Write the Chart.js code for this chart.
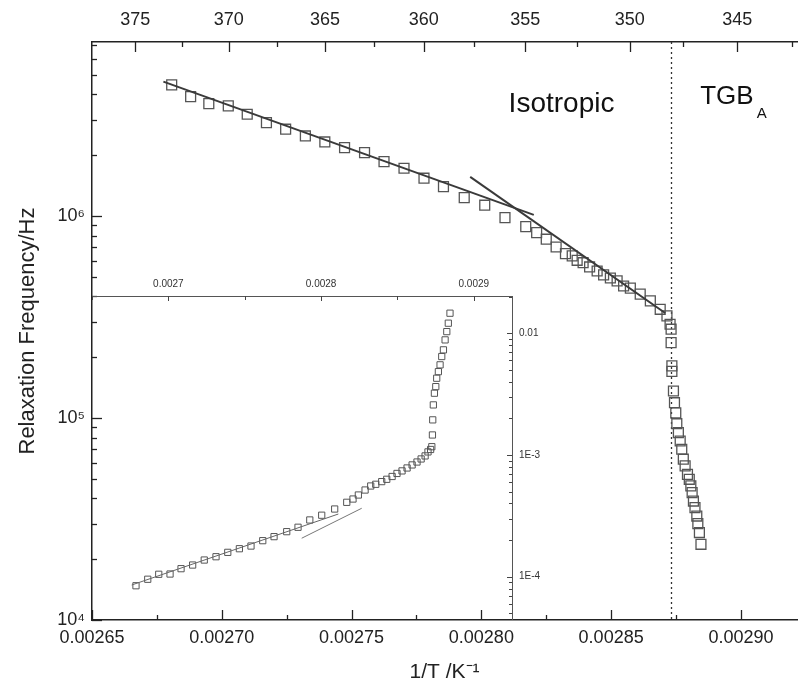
<!DOCTYPE html>
<html><head><meta charset="utf-8">
<script src="https://cdn.jsdelivr.net/npm/chart.js@4/dist/chart.umd.min.js"></script>
<style>
html,body{margin:0;padding:0;background:#fff;}
#wrap{position:relative;width:799px;height:690px;overflow:hidden;background:#fff;}
#main{position:absolute;left:0;top:0;}
#inset{position:absolute;left:92px;top:270px;}
</style></head><body>
<div id="wrap"><canvas id="main" width="799" height="690"></canvas><canvas id="inset" width="470" height="350"></canvas></div>
<script>
// ---------- main plot data (1/T in K^-1, relaxation frequency in Hz) ----------
const mainX = [0.0026807,0.0026880,0.0026950,0.0027025,0.0027098,0.0027172,0.0027246,0.0027322,0.0027397,0.0027473,
  0.0027550,0.0027625,0.0027702,0.0027779,0.0027854,0.0027934,0.0028013,0.0028091,0.0028171,0.0028213,
  0.0028250,0.0028288,0.0028324,0.0028350,0.0028369,0.0028392,0.0028417,0.0028446,0.0028471,0.0028497,
  0.0028523,0.0028548,0.0028574,0.0028612,0.0028651,0.0028689,0.0028715,0.0028727,0.0028731,0.0028731,
  0.0028734,0.0028734,0.0028740,0.0028744,0.0028749,0.0028753,0.0028759,0.0028766,0.0028772,0.0028778,
  0.0028785,0.0028794,0.0028801,0.0028807,0.0028812,0.0028817,0.0028823,0.0028830,0.0028834,0.0028840,0.0028846];
const mainY = [4.452e6,3.896e6,3.596e6,3.504e6,3.187e6,2.896e6,2.687e6,2.489e6,2.324e6,2.178e6,
  2.058e6,1.857e6,1.722e6,1.537e6,1.396e6,1.232e6,1.130e6,9.81e5,8.85e5,8.27e5,
  7.67e5,7.02e5,6.51e5,6.34e5,6.03e5,5.87e5,5.59e5,5.34e5,5.11e5,4.93e5,
  4.77e5,4.50e5,4.39e5,4.10e5,3.80e5,3.45e5,3.20e5,2.91e5,2.75e5,2.36e5,
  1.81e5,1.70e5,1.36e5,1.19e5,1.06e5,9.37e4,8.46e4,7.69e4,7.00e4,6.25e4,
  5.79e4,5.26e4,4.97e4,4.61e4,4.27e4,3.88e4,3.60e4,3.27e4,3.00e4,2.71e4,2.37e4];
const fitAX = [0.0026775, 0.0028202];
const fitAY = [4.624e6, 1.012e6];
const fitBX = [0.0027957, 0.0028708];
const fitBY = [1.560e6, 3.309e5];
const transitionX = 0.002873;
const bottomTicks = [0.00265, 0.00270, 0.00275, 0.00280, 0.00285, 0.00290];
const topTicksK = [375, 370, 365, 360, 355, 350, 345];
const leftTicks = [1e4, 1e5, 1e6];
const leftTickLabels = ['10\u2074', '10\u2075', '10\u2076'];
const phaseLabels = ['Isotropic', 'TGB', 'A'];

// ---------- inset data ----------
const insetX = [0.0026788,0.0026865,0.0026937,0.0027011,0.0027083,0.0027159,0.0027235,0.0027312,0.0027389,0.0027465,
  0.0027541,0.0027618,0.0027692,0.0027775,0.0027849,0.0027926,0.0028004,0.0028089,0.0028168,0.0028209,
  0.0028244,0.0028288,0.0028325,0.0028358,0.0028397,0.0028430,0.0028465,0.0028497,0.0028530,0.0028563,
  0.0028596,0.0028628,0.0028655,0.0028681,0.0028700,0.0028717,0.0028725,0.0028729,0.0028731,0.0028735,
  0.0028742,0.0028751,0.0028757,0.0028768,0.0028779,0.0028790,0.0028801,0.0028812,0.0028823,0.0028833,0.0028844];
const insetY = [8.43e-5,9.53e-5,1.047e-4,1.052e-4,1.164e-4,1.247e-4,1.371e-4,1.459e-4,1.585e-4,1.698e-4,
  1.786e-4,1.977e-4,2.133e-4,2.344e-4,2.547e-4,2.924e-4,3.199e-4,3.597e-4,4.083e-4,4.345e-4,
  4.688e-4,5.152e-4,5.559e-4,5.741e-4,6.039e-4,6.310e-4,6.653e-4,7.047e-4,7.396e-4,7.816e-4,
  8.279e-4,8.750e-4,9.268e-4,9.817e-4,1.059e-3,1.109e-3,1.169e-3,1.459e-3,1.941e-3,2.576e-3,
  3.214e-3,3.639e-3,4.266e-3,4.831e-3,5.495e-3,6.427e-3,7.295e-3,8.810e-3,1.030e-2,1.208e-2,1.459e-2];
const insetFit1X = [0.0026760, 0.0028113];
const insetFit1Y = [8.55e-5, 3.273e-4];
const insetFit2X = [0.0027873, 0.0028266];
const insetFit2Y = [2.070e-4, 3.648e-4];
const insetTopTicks = [0.0027, 0.0028, 0.0029];
const insetRightTicks = [1e-4, 1e-3, 1e-2];
const insetRightLabels = ['1E-4', '1E-3', '0.01'];

const FAM = "'Liberation Sans', Arial, Helvetica, sans-serif";
const pts = (xs, ys) => xs.map((x, i) => ({x: x, y: ys[i]}));
function noPad(s) { s.paddingTop = 0; s.paddingBottom = 0; s.paddingLeft = 0; s.paddingRight = 0; }

function tick(ctx, x1, y1, x2, y2) { ctx.beginPath(); ctx.moveTo(x1, y1); ctx.lineTo(x2, y2); ctx.stroke(); }

const mainDecor = {
  id: 'mainDecor',
  beforeDatasetsDraw(chart) {
    const {ctx, chartArea: a, scales: {x}} = chart;
    const px = Math.round(x.getPixelForValue(transitionX)) + 0.5;
    ctx.save();
    ctx.strokeStyle = '#333'; ctx.lineWidth = 1.3; ctx.setLineDash([2, 3]);
    tick(ctx, px, a.top, px, a.bottom);
    ctx.restore();
  },
  afterDraw(chart) {
    const {ctx, chartArea: a, scales: {x, xTop, y}} = chart;
    ctx.save();
    ctx.strokeStyle = '#222'; ctx.lineWidth = 1.3;
    // bottom ticks (inward)
    for (let i = 0; i <= 12; i++) {
      const v = 0.00265 + i * 0.000025;
      if (v > x.max + 1e-9) break;
      const px = Math.round(x.getPixelForValue(v)) + 0.5;
      tick(ctx, px, a.bottom, px, a.bottom - (i % 2 === 0 ? 10 : 5));
    }
    // top ticks (temperature)
    for (let T = 377.5; T >= 340; T -= 2.5) {
      const v = 1 / T;
      if (v < xTop.min || v > xTop.max) continue;
      const px = Math.round(xTop.getPixelForValue(v)) + 0.5;
      const major = Math.abs(T % 5) < 1e-6;
      tick(ctx, px, a.top, px, a.top + (major ? 10 : 5));
    }
    // left ticks (log)
    for (let e = 4; e <= 6; e++) {
      for (let m = 1; m <= 9; m++) {
        const v = m * Math.pow(10, e);
        if (v > y.max) break;
        const py = Math.round(y.getPixelForValue(v)) + 0.5;
        tick(ctx, a.left, py, a.left + (m === 1 ? 10 : 5), py);
      }
    }
    // phase labels
    ctx.fillStyle = '#111';
    ctx.textBaseline = 'middle'; ctx.textAlign = 'left';
    ctx.font = '28px ' + FAM;
    ctx.fillText(phaseLabels[0], x.getPixelForValue(0.0028105), y.getPixelForValue(3.55e6));
    const tx = x.getPixelForValue(0.0028843), ty = y.getPixelForValue(3.88e6);
    ctx.font = '26px ' + FAM;
    ctx.fillText(phaseLabels[1], tx, ty);
    const w = ctx.measureText(phaseLabels[1]).width;
    ctx.font = '15px ' + FAM;
    ctx.fillText(phaseLabels[2], tx + w + 3, ty + 17);
    ctx.restore();
  }
};

new Chart(document.getElementById('main'), {
  type: 'scatter',
  data: {
    datasets: [
      {data: pts(fitAX, fitAY), showLine: true, pointRadius: 0, borderColor: '#3a3a3a', borderWidth: 2, fill: false},
      {data: pts(fitBX, fitBY), showLine: true, pointRadius: 0, borderColor: '#3a3a3a', borderWidth: 2, fill: false},
      {data: pts(mainX, mainY), showLine: false, pointStyle: 'rect', pointRadius: 7, borderColor: '#555', borderWidth: 1.3, backgroundColor: 'rgba(0,0,0,0)'}
    ]
  },
  options: {
    responsive: false, animation: false, devicePixelRatio: 1,
    layout: {autoPadding: false, padding: {top: 0, right: 2, bottom: 0, left: 0}},
    plugins: {legend: {display: false}, tooltip: {enabled: false}},
    scales: {
      x: {
        type: 'linear', position: 'bottom', min: 0.00265, max: 0.0029216,
        afterFit(s) { s.height = 70; noPad(s); },
        afterBuildTicks(s) { s.ticks = bottomTicks.map(v => ({value: v})); },
        ticks: {callback: v => Number(v).toFixed(5), font: {family: FAM, size: 18}, color: '#222', padding: 7, maxRotation: 0, autoSkip: false},
        grid: {display: false, drawTicks: false},
        border: {display: true, color: '#222', width: 1.5},
        title: {display: true, text: '1/T /K\u207B\u00B9', font: {family: FAM, size: 21}, color: '#222', padding: {top: 0, bottom: 5}}
      },
      xTop: {
        type: 'linear', position: 'top', min: 0.00265, max: 0.0029216,
        afterFit(s) { s.height = 42; noPad(s); },
        afterBuildTicks(s) { s.ticks = topTicksK.map(T => ({value: 1 / T})); },
        ticks: {callback: v => String(Math.round(1 / v)), font: {family: FAM, size: 18}, color: '#222', padding: 11, maxRotation: 0, autoSkip: false},
        grid: {display: false, drawTicks: false},
        border: {display: true, color: '#222', width: 1.5}
      },
      y: {
        type: 'logarithmic', position: 'left', min: 1e4, max: 7.26e6,
        afterFit(s) { s.width = 92; noPad(s); },
        afterBuildTicks(s) { s.ticks = leftTicks.map(v => ({value: v})); },
        ticks: {callback: v => leftTickLabels[Math.round(Math.log10(v)) - 4], font: {family: FAM, size: 18}, color: '#222', padding: 7, autoSkip: false},
        grid: {display: false, drawTicks: false},
        border: {display: true, color: '#222', width: 1.5},
        title: {display: true, text: 'Relaxation Frequency/Hz', font: {family: FAM, size: 22}, color: '#222', padding: {top: 15, bottom: 0}}
      }
    }
  },
  plugins: [mainDecor]
});

const insetDecor = {
  id: 'insetDecor',
  afterDraw(chart) {
    const {ctx, chartArea: a, scales: {x, y}} = chart;
    ctx.save();
    ctx.strokeStyle = '#444'; ctx.lineWidth = 1;
    for (let i = 0; i <= 6; i++) {
      const v = 0.00265 + i * 0.00005;
      if (v > x.max + 1e-9) break;
      const px = Math.round(x.getPixelForValue(v)) + 0.5;
      const major = (i % 2 === 1);
      tick(ctx, px, a.top, px, a.top + (major ? 5 : 4));
    }
    for (let e = -5; e <= -2; e++) {
      for (let m = 1; m <= 9; m++) {
        const v = m * Math.pow(10, e);
        if (v < y.min || v > y.max) continue;
        const py = Math.round(y.getPixelForValue(v)) + 0.5;
        tick(ctx, a.right, py, a.right - (m === 1 ? 5 : 3), py);
      }
    }
    ctx.restore();
  }
};

new Chart(document.getElementById('inset'), {
  type: 'scatter',
  data: {
    datasets: [
      {data: pts(insetFit1X, insetFit1Y), showLine: true, pointRadius: 0, borderColor: '#666', borderWidth: 1, fill: false},
      {data: pts(insetFit2X, insetFit2Y), showLine: true, pointRadius: 0, borderColor: '#777', borderWidth: 1, fill: false},
      {data: pts(insetX, insetY), showLine: false, pointStyle: 'rect', pointRadius: 4.4, borderColor: '#555', borderWidth: 1, backgroundColor: 'rgba(0,0,0,0)'}
    ]
  },
  options: {
    responsive: false, animation: false, devicePixelRatio: 1,
    layout: {autoPadding: false, padding: 0},
    plugins: {legend: {display: false}, tooltip: {enabled: false}},
    scales: {
      x: {
        type: 'linear', position: 'top', min: 0.00265, max: 0.002925,
        afterFit(s) { s.height = 26; noPad(s); },
        afterBuildTicks(s) { s.ticks = insetTopTicks.map(v => ({value: v})); },
        ticks: {callback: v => Number(v).toFixed(4), font: {family: FAM, size: 10}, color: '#333', padding: 6, maxRotation: 0, autoSkip: false},
        grid: {display: false, drawTicks: false},
        border: {display: true, color: '#555', width: 1}
      },
      y: {
        type: 'logarithmic', position: 'right', min: 4.41e-5, max: 0.0202,
        afterFit(s) { s.width = 50; noPad(s); },
        afterBuildTicks(s) { s.ticks = insetRightTicks.map(v => ({value: v})); },
        ticks: {callback: v => insetRightLabels[Math.round(Math.log10(v)) + 4], font: {family: FAM, size: 10}, color: '#333', padding: 7, autoSkip: false},
        grid: {display: false, drawTicks: false},
        border: {display: true, color: '#555', width: 1}
      }
    }
  },
  plugins: [insetDecor]
});
</script>
</body></html>
